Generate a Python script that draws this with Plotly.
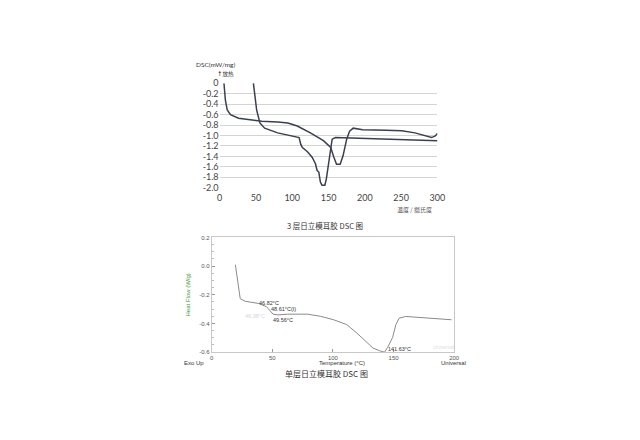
import plotly.graph_objects as go

# ---- Top chart: 3-layer sample, two DSC curves ----
curve1_t = [6, 8, 10.5, 15, 26, 44, 58, 80, 94, 107, 125, 143, 150, 153, 157, 161, 166, 170, 175, 179, 184, 188, 197, 229, 251, 269, 283, 292, 297, 300]
curve1_v = [0, -0.33, -0.51, -0.6, -0.67, -0.71, -0.73, -0.74, -0.76, -0.82, -0.95, -1.1, -1.18, -1.23, -1.4, -1.55, -1.55, -1.39, -1.07, -0.92, -0.86, -0.87, -0.89, -0.9, -0.91, -0.95, -1.0, -1.04, -1.01, -0.96]

curve2_t = [46.5, 48.8, 51, 55.5, 62, 80, 98, 109.5, 111.8, 114, 121, 127.6, 132, 134.3, 136.6, 138.8, 141, 145, 147, 150.5, 152.7, 155, 159.5, 184, 229, 274, 300]
curve2_v = [0, -0.33, -0.51, -0.76, -0.86, -0.95, -1.01, -1.04, -1.17, -1.23, -1.31, -1.42, -1.54, -1.67, -1.7, -1.89, -1.95, -1.95, -1.83, -1.51, -1.23, -1.07, -1.04, -1.05, -1.07, -1.09, -1.1]

top_yticks = [0, -0.2, -0.4, -0.6, -0.8, -1.0, -1.2, -1.4, -1.6, -1.8, -2.0]
top_ytext = ["0", "-0.2", "-0.4", "-0.6", "-0.8", "-1.0", "-1.2", "-1.4", "-1.6", "-1.8", "-2.0"]
top_xticks = [0, 50, 100, 150, 200, 250, 300]

# ---- Bottom chart: single-layer sample ----
single_t = [19.5, 20.8, 22.2, 23.5, 27.6, 38.4, 45.2, 47.8, 50.6, 54.6, 62.7, 79, 89.8, 100.6, 111.4, 119.5, 127.6, 133, 138.4, 142.5, 145.2, 147.9, 149.2, 151.9, 154.6, 160, 170.8, 187, 197.8]
single_v = [0.01, -0.068, -0.18, -0.227, -0.245, -0.26, -0.283, -0.306, -0.335, -0.34, -0.335, -0.335, -0.35, -0.374, -0.408, -0.465, -0.533, -0.571, -0.59, -0.6, -0.566, -0.52, -0.498, -0.408, -0.363, -0.351, -0.358, -0.367, -0.374]

bot_yticks = [0.2, 0.0, -0.2, -0.4, -0.6]
bot_ytext = ["0.2", "0.0", "-0.2", "-0.4", "-0.6"]
bot_xticks = [0, 50, 100, 150, 200]

# page offset compensation
OFF_X, OFF_Y = 5, 8
W, H = 632, 432
def px(x):
    return (x - OFF_X) / W
def py(y):
    return 1 - (y - OFF_Y) / H
TOP_DY = -2  # small vertical nudge for the upper chart block

fig = go.Figure()
line_col = "#3b4050"
fig.add_trace(go.Scatter(x=curve1_t, y=curve1_v, mode="lines", line=dict(color=line_col, width=1.5), xaxis="x", yaxis="y", showlegend=False))
fig.add_trace(go.Scatter(x=curve2_t, y=curve2_v, mode="lines", line=dict(color=line_col, width=1.5), xaxis="x", yaxis="y", showlegend=False))
fig.add_trace(go.Scatter(x=single_t, y=single_v, mode="lines", line=dict(color="#8a8a8a", width=1), xaxis="x2", yaxis="y2", showlegend=False))

tickfont_top = dict(family="Lato, DejaVu Sans", size=9, color="#444")
tickfont_bot = dict(family="Liberation Sans, DejaVu Sans", size=6, color="#555")

fig.update_layout(
    width=W, height=H,
    margin=dict(l=0, r=0, t=0, b=0),
    paper_bgcolor="white", plot_bgcolor="white",
    xaxis=dict(domain=[px(217.3), px(439)], range=[0, 300], tickvals=top_xticks,
               showgrid=False, zeroline=False, showline=False, ticks="", ticklabelstandoff=3,
               tickfont=tickfont_top, anchor="y"),
    yaxis=dict(domain=[py(188.3 + TOP_DY), py(81 + TOP_DY)], range=[-2.0, 0], tickvals=top_yticks, ticktext=top_ytext,
               showgrid=True, gridcolor="#d4d4d4", gridwidth=1, zeroline=False, showline=False, ticks="",
               tickfont=tickfont_top, anchor="x"),
    xaxis2=dict(domain=[px(209.3), px(456)], range=[0, 200], tickvals=bot_xticks,
                showgrid=False, zeroline=False, showline=True, linecolor="#c8c8c8", mirror=True,
                ticks="inside", ticklen=3, tickcolor="#999", tickfont=tickfont_bot, anchor="y2"),
    yaxis2=dict(domain=[py(355), py(237.3)], range=[-0.6, 0.2], tickvals=bot_yticks, ticktext=bot_ytext,
                showgrid=False, zeroline=False, showline=True, linecolor="#c8c8c8", mirror=True,
                ticks="inside", ticklen=3, tickcolor="#999", tickfont=tickfont_bot, anchor="x2",
                minor=dict(ticks="inside", ticklen=2, dtick=0.05, tickcolor="#bbb"),
                title=dict(text="Heat Flow (W/g)", font=dict(family="Liberation Sans", size=6, color="#3a9a3a"), standoff=8)),
)

ann = []
def add(text, x, y, size, color="#444", family="Lato, DejaVu Sans", xanchor="center"):
    ann.append(dict(text=text, x=px(x), y=py(y), xref="paper", yref="paper", showarrow=False,
                    font=dict(size=size, color=color, family=family), xanchor=xanchor, yanchor="middle"))

add("DSC(mW/mg)", 191, 62 + TOP_DY, 6.5, "#333", xanchor="left")
add("<b>↑</b>放热", 213, 72 + TOP_DY, 5.5, "#333", family="Noto Sans CJK SC", xanchor="left")
add("温度 / 摄氏度", 416, 209, 6, "#555", family="Noto Sans CJK SC")
add("3 层日立模耳胶 DSC 图", 325, 225, 7.5, "#333", family="Noto Sans CJK SC")
add("单层日立模耳胶 DSC 图", 326, 377, 8, "#333", family="Noto Sans CJK SC")
add("Exo Up", 191, 366, 6, "#333", family="Liberation Sans")
add("Universal", 455, 366, 6, "#333", family="Liberation Sans")
add("Temperature (°C)", 342, 366, 6, "#333", family="Liberation Sans")
add("46.82°C", 268, 305, 5.5, "#333", family="Liberation Sans")
add("48.61°C(I)", 282, 310.5, 5.5, "#333", family="Liberation Sans")
add("49.56°C", 282, 322.5, 5.5, "#333", family="Liberation Sans")
add("46.38°C", 253, 318, 5.5, "#d6d6d6", family="Liberation Sans")
add("141.63°C", 400, 351.5, 5.5, "#333", family="Liberation Sans")
add("Universal", 445, 350, 5, "#dddddd", family="Liberation Sans")
fig.update_layout(annotations=ann)

fig.write_html("out.html")
